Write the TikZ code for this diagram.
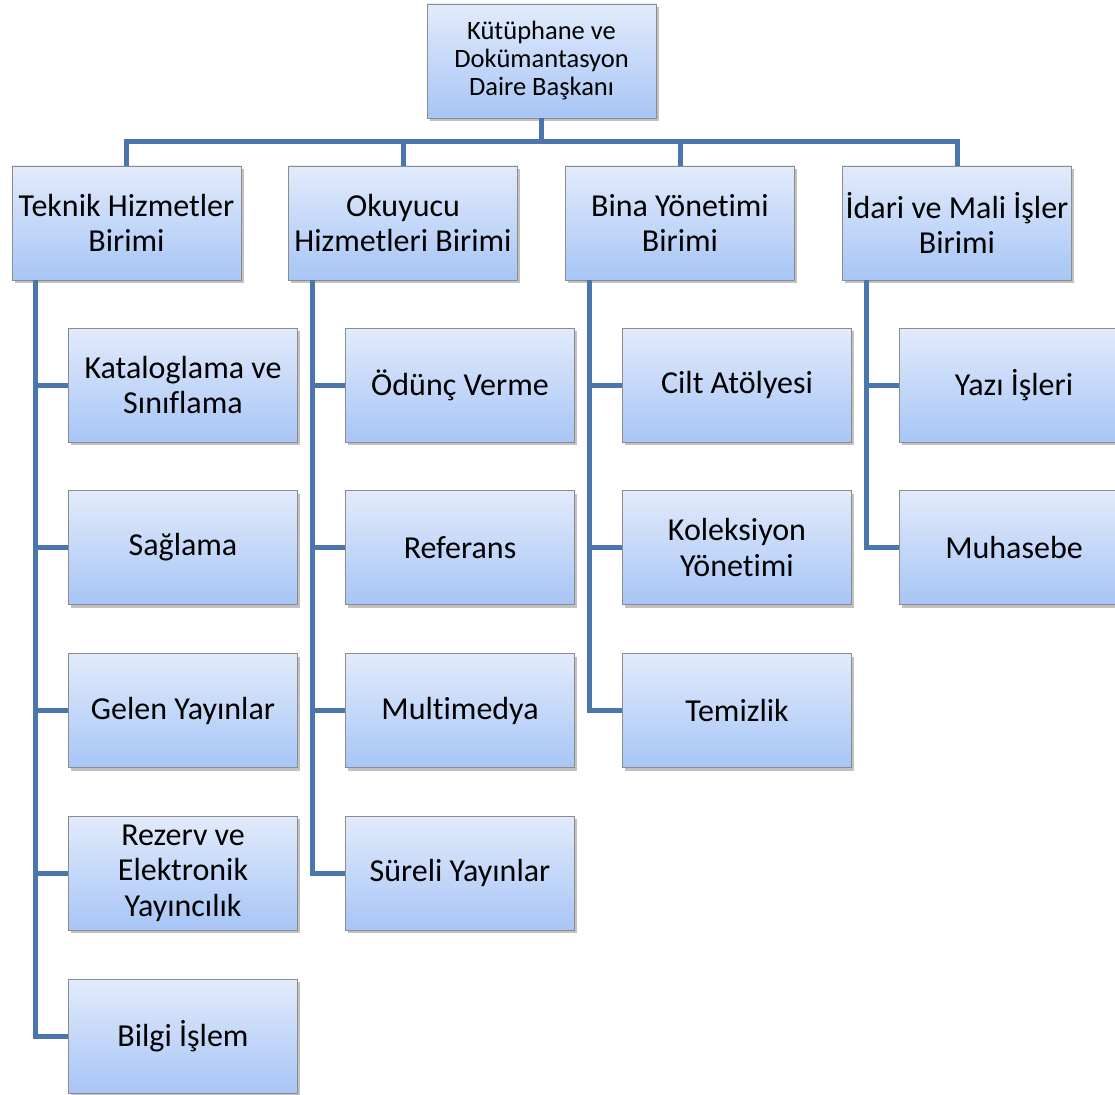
\documentclass[tikz,border=0pt]{standalone}
\usepackage{fontspec}
\setmainfont{Carlito}[Ligatures=NoCommon]
\usetikzlibrary{shadows}
\definecolor{linkblue}{HTML}{4A76AC}
\definecolor{boxtop}{HTML}{E2EBFB}
\definecolor{boxbot}{HTML}{A7C5F6}
\definecolor{boxedge}{HTML}{8C8C8C}
\tikzset{
  box/.style={rectangle, draw=boxedge, line width=0.8pt, top color=boxtop, bottom color=boxbot,
    minimum width=229pt, minimum height=114pt, align=center, inner sep=1pt,
    font=\fontsize{32}{35.5}\selectfont,
    drop shadow={shadow xshift=2.5pt, shadow yshift=-3pt, opacity=0.35, fill=black!70}},
  topbox/.style={box, font=\fontsize{26.5}{28}\selectfont},
  link/.style={draw=linkblue, line width=5pt, line join=miter}
}
\begin{document}
\begin{tikzpicture}[x=1pt,y=-1pt]
\useasboundingbox (0,0) rectangle (1115,1094);
\clip (0,0) rectangle (1115,1094);
% top
\node[topbox] (top) at (541.5,61) {Kütüphane ve\\Dokümantasyon\\Daire Başkanı};
% units
\node[box] (u1) at (126.5,223) {Teknik Hizmetler\\Birimi};
\node[box] (u2) at (403,223) {Okuyucu\\Hizmetleri Birimi};
\node[box] (u3) at (680,223) {Bina Yönetimi\\Birimi};
\node[box] (u4) at (957,223) {İdari ve Mali İşler\\Birimi};
% column 1
\node[box] (c11) at (183,385) {Kataloglama ve\\Sınıflama};
\node[box] (c12) at (183,547.5) {Sağlama};
\node[box] (c13) at (183,710.5) {Gelen Yayınlar};
\node[box] (c14) at (183,873) {Rezerv ve\\Elektronik\\Yayıncılık};
\node[box] (c15) at (183,1036) {Bilgi İşlem};
% column 2
\node[box] (c21) at (460,385) {Ödünç Verme};
\node[box] (c22) at (460,547.5) {Referans};
\node[box] (c23) at (460,710.5) {Multimedya};
\node[box] (c24) at (460,873) {Süreli Yayınlar};
% column 3
\node[box] (c31) at (737,385) {Cilt Atölyesi};
\node[box] (c32) at (737,547.5) {Koleksiyon\\Yönetimi};
\node[box] (c33) at (737,710.5) {Temizlik};
% column 4
\node[box] (c41) at (1014,385) {Yazı İşleri};
\node[box] (c42) at (1014,547.5) {Muhasebe};
% bus
\coordinate (bus) at (541.5,142);
\foreach \u in {u1,u2,u3,u4}{
  \draw[link] (top.south) -- (top.south |- bus) -| (\u.north);
}
% trunks
\coordinate (t1) at ([xshift=24pt]u1.south west);
\coordinate (t2) at ([xshift=24pt]u2.south west);
\coordinate (t3) at ([xshift=24pt]u3.south west);
\coordinate (t4) at ([xshift=24pt]u4.south west);
\foreach \c in {c11,c12,c13,c14,c15}{\draw[link] (t1) |- (\c.west);}
\foreach \c in {c21,c22,c23,c24}{\draw[link] (t2) |- (\c.west);}
\foreach \c in {c31,c32,c33}{\draw[link] (t3) |- (\c.west);}
\foreach \c in {c41,c42}{\draw[link] (t4) |- (\c.west);}
\end{tikzpicture}
\end{document}
